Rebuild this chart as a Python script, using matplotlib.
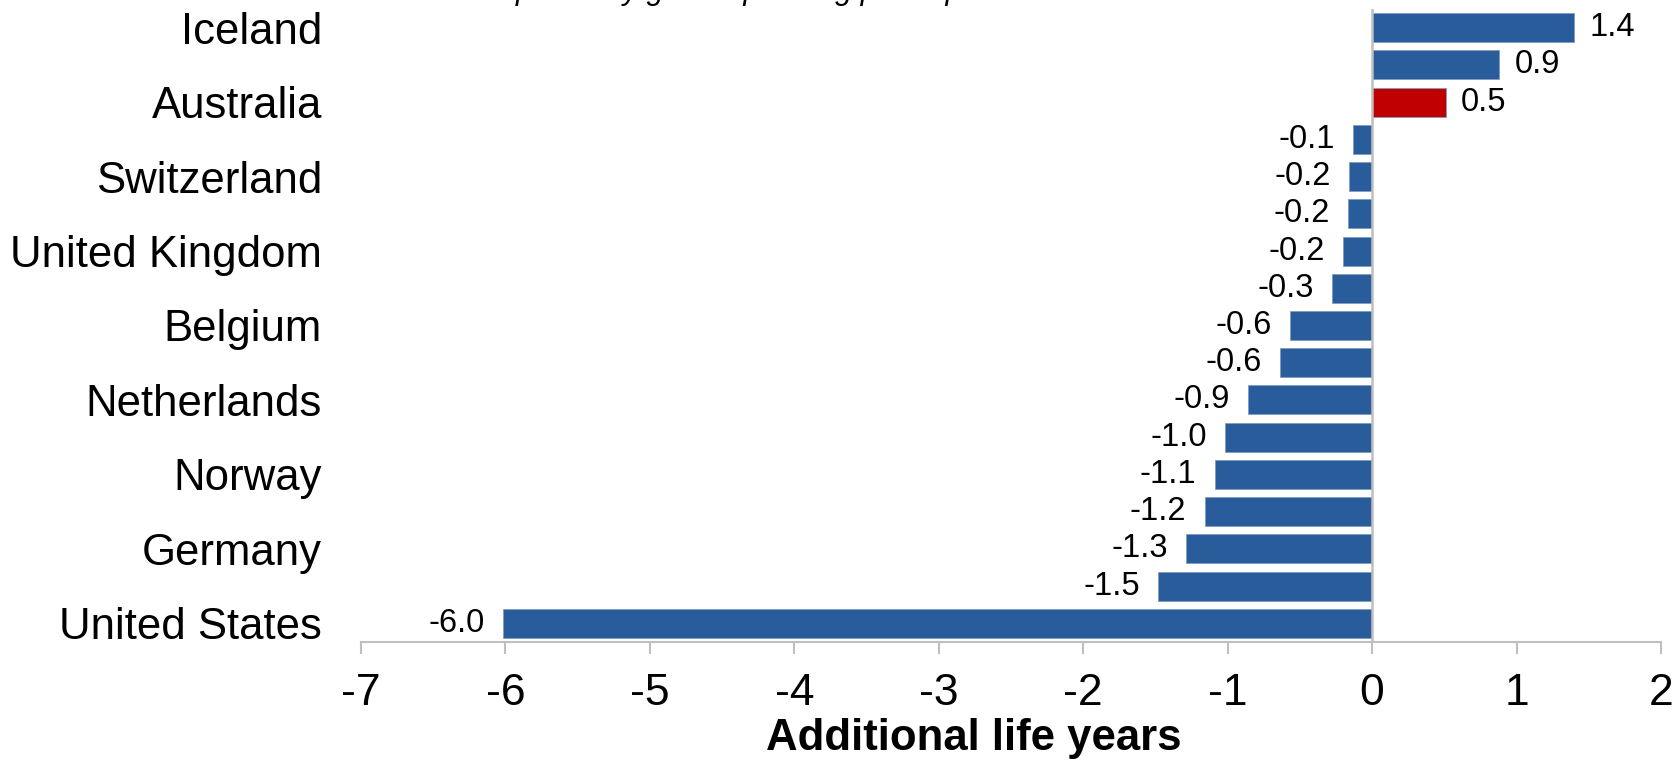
import matplotlib
matplotlib.use("Agg")
import matplotlib.pyplot as plt

plt.rcParams['font.family'] = ['Liberation Sans', 'DejaVu Sans']

# Countries, top to bottom; only every other row carries a label
countries = ["Iceland", "", "Australia", "", "Switzerland", "", "United Kingdom", "",
             "Belgium", "", "Netherlands", "", "Norway", "", "Germany", "", "United States"]
life_years = [1.40, 0.88, 0.51, -0.13, -0.16, -0.17, -0.20, -0.28,
              -0.57, -0.64, -0.86, -1.02, -1.09, -1.16, -1.29, -1.48, -6.02]
highlight = "Australia"
x_ticks = [-7, -6, -5, -4, -3, -2, -1, 0, 1, 2]

BLUE = "#295C9A"
RED = "#C00000"
GREY = "#BFBFBF"

W, H = 1674, 761
fig = plt.figure(figsize=(W / 100, H / 100), dpi=100)
ax = fig.add_axes([361 / W, 1 - 642 / H, (1661 - 361) / W, (642 - 9) / H])

pos = list(range(len(life_years)))
colors = [RED if c == highlight else BLUE for c in countries]
bars = ax.barh(pos, life_years, height=0.78, color=colors,
               edgecolor="#7F9CC4", linewidth=0.6, zorder=2)

for b, v in zip(bars, life_years):
    y = b.get_y() + b.get_height() / 2
    if v >= 0:
        ax.annotate(f"{v:.1f}", (v, y), xytext=(11, 0), textcoords="offset points",
                    ha="left", va="center", fontsize=23.5, color="black")
    else:
        ax.annotate(f"{v:.1f}", (v, y), xytext=(-13, 0), textcoords="offset points",
                    ha="right", va="center", fontsize=23.5, color="black")

ax.set_xlim(x_ticks[0], x_ticks[-1])
ax.set_ylim(len(life_years) - 0.5, -0.5)

ax.set_yticks(pos)
ax.set_yticklabels(countries, fontsize=31.5)
ax.tick_params(axis="y", length=0, pad=28)

ax.set_xticks(x_ticks)
ax.set_xticklabels([str(t) for t in x_ticks], fontsize=32)
ax.tick_params(axis="x", length=8.6, width=1.5, color=GREY, pad=14)

for side in ["top", "right", "left"]:
    ax.spines[side].set_visible(False)
ax.spines["bottom"].set_color(GREY)
ax.spines["bottom"].set_linewidth(1.5)
ax.axvline(0, color=GREY, linewidth=1.8, zorder=3)

fig.text(974 / W, 11 / H, "Additional life years", ha="center", va="baseline",
         fontsize=31.5, fontweight="bold")

# Caption running off the top edge
fig.text(995 / W, 1 + 1 / H, "Life expectancy given spending per capita",
         ha="right", va="baseline", fontsize=22, style="italic")

fig.savefig("out.png", dpi=100, facecolor="white")
